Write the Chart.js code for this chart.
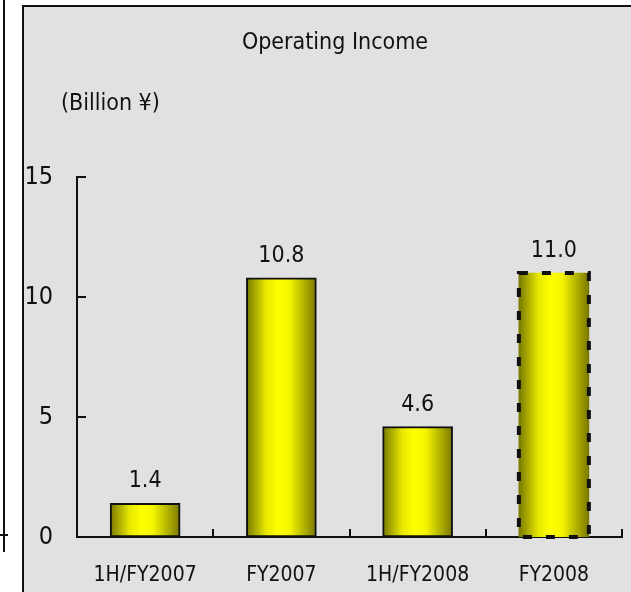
<!DOCTYPE html>
<html>
<head>
<meta charset="utf-8">
<script src="https://cdn.jsdelivr.net/npm/chart.js@4.4.1/dist/chart.umd.min.js"></script>
<style>
  body { margin: 0; background: #fff; }
  canvas { display: block; }
</style>
</head>
<body>
<canvas id="myChart" width="631" height="592"></canvas>
<script>
const categories = ['1H/FY2007', 'FY2007', '1H/FY2008', 'FY2008'];
const incomeValues = [1.4, 10.8, 4.6, 11.0];
const valueLabels = ['1.4', '10.8', '4.6', '11.0'];
const yTicks = [0, 5, 10, 15];
const forecastIndex = 3; // FY2008 is a forecast -> dashed outline

const chartTitle = 'Operating Income';
const unitLabel = '(Billion ¥)';

const FONT = '"DejaVu Sans Condensed", "Liberation Sans", sans-serif';

function barGradient(ctx, left, right) {
    const g = ctx.createLinearGradient(left, 0, right, 0);
    g.addColorStop(0, '#787800');
    g.addColorStop(0.28, '#e8e800');
    g.addColorStop(0.45, '#ffff00');
    g.addColorStop(0.62, '#f4f400');
    g.addColorStop(1, '#787800');
    return g;
}

// frame + panel behind the chart
const panelPlugin = {
    id: 'panel',
    beforeDraw(chart) {
        const c = chart.ctx;
        c.save();
        c.fillStyle = '#fff';
        c.fillRect(0, 0, chart.width, chart.height);
        // edge of the neighbouring chart
        c.strokeStyle = '#111';
        c.lineWidth = 2;
        c.beginPath();
        c.moveTo(4, 0); c.lineTo(4, 552);
        c.moveTo(0, 535); c.lineTo(8, 535);
        c.stroke();
        // grey panel
        c.fillStyle = '#e1e1e1';
        c.fillRect(23, 6, chart.width, chart.height);
        c.beginPath();
        c.moveTo(23, chart.height + 2); c.lineTo(23, 6); c.lineTo(chart.width + 2, 6);
        c.stroke();
        // title texts
        c.fillStyle = '#111';
        c.textBaseline = 'alphabetic';
        c.textAlign = 'center';
        c.font = '23px ' + FONT;
        c.fillText(chartTitle, 335, 49);
        c.textAlign = 'left';
        c.font = '23px ' + FONT;
        c.fillText(unitLabel, 61, 110);
        c.restore();
    }
};

const decorPlugin = {
    id: 'decor',
    afterDatasetsDraw(chart) {
        const c = chart.ctx;
        const x = chart.scales.x;
        const y = chart.scales.y;
        const area = chart.chartArea;
        const meta = chart.getDatasetMeta(0);
        c.save();
        // inward tick marks
        c.strokeStyle = '#111';
        c.lineWidth = 2;
        c.beginPath();
        yTicks.forEach(v => {
            const py = Math.round(y.getPixelForValue(v));
            c.moveTo(area.left, py); c.lineTo(area.left + 9, py);
        });
        for (let i = 0; i < categories.length; i++) {
            const px = Math.round(x.getPixelForValue(i) + (x.getPixelForValue(1) - x.getPixelForValue(0)) / 2);
            c.moveTo(px, area.bottom); c.lineTo(px, area.bottom - 8);
        }
        c.stroke();
        // dashed outline for the forecast bar
        const el = meta.data[forecastIndex];
        const half = el.width / 2;
        c.lineWidth = 4;
        c.setLineDash([9, 14]);
        c.strokeRect(el.x - half, el.y, el.width, el.base - el.y);
        c.setLineDash([]);
        // value labels
        c.fillStyle = '#111';
        c.font = '23px ' + FONT;
        c.textAlign = 'center';
        c.textBaseline = 'alphabetic';
        meta.data.forEach((bar, i) => {
            c.fillText(valueLabels[i], bar.x, bar.y - 16);
        });
        c.restore();
    }
};

const ctx = document.getElementById('myChart');

new Chart(ctx, {
    type: 'bar',
    data: {
        labels: categories,
        datasets: [{
            data: incomeValues,
            backgroundColor: (context) => {
                const chart = context.chart;
                if (!chart.chartArea || context.dataIndex === undefined) return '#ffff00';
                const cx = chart.scales.x.getPixelForValue(context.dataIndex);
                return barGradient(chart.ctx, cx - 35, cx + 35);
            },
            borderColor: '#111',
            borderWidth: (context) => context.dataIndex === forecastIndex ? 0 : 2,
            borderSkipped: false,
            barThickness: 70
        }]
    },
    options: {
        responsive: false,
        animation: false,
        layout: {
            padding: { top: 177, left: 0, right: 9, bottom: 0 }
        },
        scales: {
            x: {
                grid: { display: false, drawTicks: false },
                border: { display: true, color: '#111', width: 2 },
                ticks: {
                    color: '#111',
                    font: { family: FONT, size: 21 },
                    padding: 26,
                    maxRotation: 0
                },
                afterFit(scale) { scale.height = 55; }
            },
            y: {
                min: 0,
                max: 15,
                afterBuildTicks(scale) { scale.ticks = yTicks.map(v => ({ value: v })); },
                grid: { display: false, drawTicks: false },
                border: { display: true, color: '#111', width: 2 },
                ticks: {
                    color: '#111',
                    font: { family: FONT, size: 25 },
                    padding: 24
                },
                afterFit(scale) { scale.width = 77; }
            }
        },
        plugins: {
            legend: { display: false },
            tooltip: { enabled: false }
        }
    },
    plugins: [panelPlugin, decorPlugin]
});
</script>
</body>
</html>
